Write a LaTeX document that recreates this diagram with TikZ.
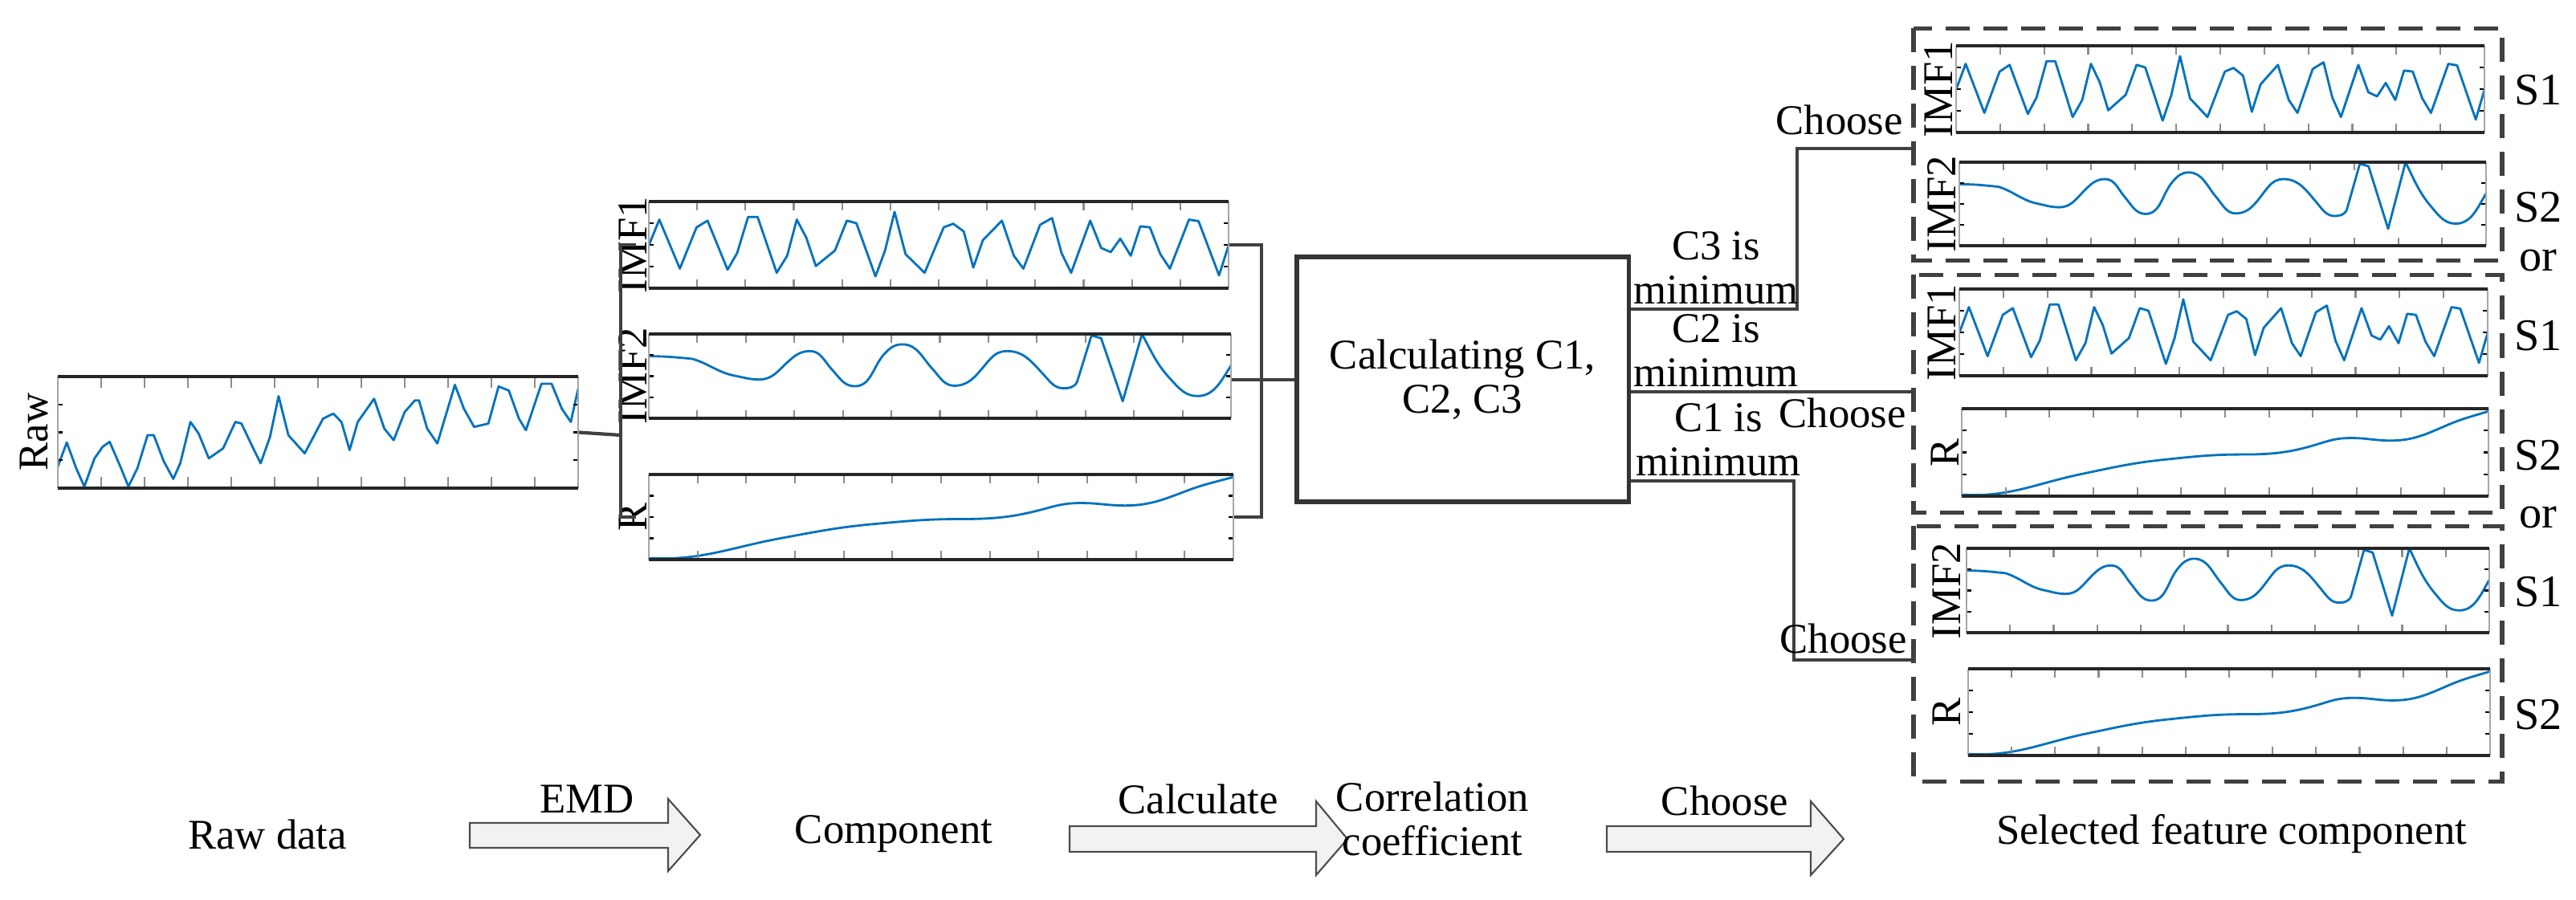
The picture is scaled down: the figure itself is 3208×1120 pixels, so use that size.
\documentclass[tikz,border=0pt]{standalone}
\usepackage{fontspec}
\setmainfont{Liberation Serif}
\setsansfont{Liberation Serif}
\begin{document}
\begin{tikzpicture}[x=0.01cm,y=-0.01cm,
  lbl/.style={font=\rmfamily\fontsize{15}{15.5}\selectfont, inner sep=1pt},
  conn/.style={draw=black!75, line width=1.2pt},
  dbox/.style={draw=black!75, line width=1.5pt, dash pattern=on 0.3cm off 0.17cm},
  wave/.style={draw={rgb,255:red,0;green,114;blue,189}, line width=0.8pt, line join=round},
  bigarr/.style={draw=black!70, fill=black!5, line width=0.6pt}]
\useasboundingbox (0,0) rectangle (3208,1120);
\def\rawd{(135,825)--(157,752)--(180,830)--(200,885)--(225,800)--(245,765)--(262,750)--(290,830)--(308,885)--(330,830)--(355,730)--(370,730)--(395,810)--(418,862)--(435,815)--(460,690)--(480,725)--(505,800)--(540,770)--(570,690)--(585,695)--(610,760)--(632,815)--(655,735)--(676,612)--(700,730)--(740,785)--(785,680)--(810,665)--(830,690)--(850,775)--(870,690)--(910,620)--(935,710)--(958,745)--(985,660)--(1010,625)--(1020,625)--(1040,710)--(1065,755)--(1108,578)--(1130,650)--(1155,705)--(1190,695)--(1215,583)--(1240,595)--(1265,680)--(1282,715)--(1320,575)--(1345,575)--(1370,650)--(1392,690)--(1410,590)}
\def\imfa{(140,175)--(162,125)--(205,220)--(240,140)--(263,127)--(305,222)--(325,190)--(348,120)--(368,120)--(408,228)--(430,195)--(450,125)--(470,160)--(490,215)--(530,185)--(555,127)--(575,132)--(615,235)--(635,185)--(655,110)--(678,192)--(718,228)--(758,140)--(778,133)--(800,148)--(820,218)--(840,165)--(880,127)--(905,195)--(925,220)--(960,135)--(985,122)--(1005,190)--(1025,228)--(1065,127)--(1088,180)--(1108,188)--(1128,162)--(1150,195)--(1170,138)--(1190,140)--(1212,192)--(1232,220)--(1272,125)--(1292,128)--(1335,233)--(1355,175)}
\def\imfb{(150,360) to[out=0,in=175] (240,365) to[out=-15,in=170] (330,398) to[out=-10,in=180] (380,405) to[out=0,in=220] (440,370) to[out=40,in=180] (485,350) to[out=0,in=135] (530,385) to[out=-45,in=180] (578,418) to[out=0,in=225] (640,355) to[out=45,in=180] (677,337) to[out=0,in=135] (740,385) to[out=-45,in=180] (785,417) to[out=0,in=225] (860,365) to[out=45,in=180] (895,350) to[out=0,in=135] (970,395) to[out=-45,in=180] (1012,422) to[out=0,in=240] (1040,410) -- (1070,320) -- (1090,325) -- (1135,447) -- (1175,317) to[out=-60,in=135] (1235,405) to[out=-45,in=180] (1290,437) to[out=0,in=235] (1360,378)}
\def\rd{(155,965) to[out=-3,in=190] (430,925) to[out=10,in=185] (620,897) to[out=5,in=180] (800,887) to[out=0,in=195] (980,865) to[out=15,in=180] (1050,855) to[out=0,in=180] (1140,860) to[out=0,in=200] (1270,830) to[out=20,in=195] (1365,803)}
\newcommand\pplot[9]{%
  \node[inner sep=0, minimum width={(#4-#2)*0.01cm}, minimum height={(#5-#3)*0.01cm}] (#1) at ({(#2+#4)/2},{(#3+#5)/2}) {};
  \begin{scope}
   \clip (#2,#3) rectangle (#4,#5);
   \begin{scope}[shift={({#2-#6/#8*(#4-#2)},{#3-#7/\HH*(#5-#3)})}, xscale={(#4-#2)/#8}, yscale={(#5-#3)/\HH}]
     \draw[wave] #9;
   \end{scope}
  \end{scope}
  \foreach \i in {1,...,11}{
    \draw[black!45, line width=0.6pt] ({#2+\i*(#4-#2)/12},#3) -- ++(0,{0.1*(#5-#3)});
    \draw[black!45, line width=0.6pt] ({#2+\i*(#4-#2)/12},#5) -- ++(0,{-0.1*(#5-#3)});}
  \foreach \j in {0.25,0.5,0.75}{
    \draw[black, line width=0.6pt] (#2,{#3+\j*(#5-#3)}) -- ++(6,0);
    \draw[black, line width=0.6pt] (#4,{#3+\j*(#5-#3)}) -- ++(-6,0);}
  \draw[black!35, line width=0.8pt] (#2,#3) -- (#2,#5) (#4,#3) -- (#4,#5);
  \draw[black!85, line width=1.4pt] (#2,#3) -- (#4,#3) (#2,#5) -- (#4,#5);
}
\newcommand\ylab[3]{\node[lbl, rotate=90] at (#1,#2) {#3};}
% raw
\def\HH{337}\pplot{raw}{72}{469}{720}{608}{135}{553}{1275}{\rawd}
\ylab{42}{538}{Raw}
% components
\def\HH{168}\pplot{ca}{808}{251}{1530}{359}{140}{90}{1215}{\imfa}
\def\HH{163}\pplot{cb}{808}{416}{1533}{521}{150}{317}{1210}{\imfb}
\def\HH{170}\pplot{cr}{808}{591}{1536}{697}{155}{798}{1210}{\rd}
\ylab{788}{305}{IMF1}\ylab{788}{468}{IMF2}\ylab{788}{644}{R}
% right side
\def\HH{168}\pplot{sa1}{2436}{57}{3094}{165}{140}{90}{1215}{\imfa}
\def\HH{163}\pplot{sb1}{2440}{202}{3096}{306}{150}{317}{1210}{\imfb}
\def\HH{168}\pplot{sa2}{2440}{360}{3098}{468}{140}{90}{1215}{\imfa}
\def\HH{170}\pplot{sr2}{2443}{509}{3099}{618}{155}{798}{1210}{\rd}
\def\HH{163}\pplot{sb3}{2449}{683}{3100}{788}{150}{317}{1210}{\imfb}
\def\HH{170}\pplot{sr3}{2451}{833}{3101}{941}{155}{798}{1210}{\rd}
\ylab{2414}{111}{IMF1}\ylab{2418}{254}{IMF2}\ylab{2418}{414}{IMF1}\ylab{2422}{564}{R}\ylab{2424}{736}{IMF2}\ylab{2424}{887}{R}
\node[draw=none, inner sep=0, minimum width=7.31cm, minimum height=2.88cm] (box1) at (2749.5,180) {};
\node[draw=none, inner sep=0, minimum width=7.31cm, minimum height=2.95cm] (box2) at (2749.5,490.5) {};
\node[draw=none, inner sep=0, minimum width=7.31cm, minimum height=3.17cm] (box3) at (2749.5,814.5) {};
\draw[dbox] (box1.north west) rectangle (box1.south east);
\draw[dbox] (box2.north west) rectangle (box2.south east);
\draw[dbox] (box3.north west) rectangle (box3.south east);
\foreach \t/\yy in {S1/112,S2/258,or/325,S1/418,S2/567,or/644,S1/737,S2/890}
  \node[lbl, font=\rmfamily\fontsize{16}{16}\selectfont] at (3161,\yy) {\t};
% calculating box
\node[draw=black!80, line width=1.5pt, minimum width=4.13cm, minimum height=3.05cm, lbl, align=center] (calc) at (1821.5,472.5) {Calculating C1,\\C2, C3};
% connectors left
\coordinate (brL) at (773,542);
\draw[conn] (raw.east) -- (brL);
\draw[conn] ([xshift=-0.15cm]ca.west) -| (brL) |- ([xshift=-0.15cm]cr.west);
\coordinate (brR) at (1571,473);
\draw[conn] (ca.east) -| (brR) |- (cr.east);
\draw[conn] (cb.east |- brR) -- (calc.west |- brR);
% outputs
\coordinate (k3) at (2238,185);
\coordinate (k1) at (2234,822);
\draw[conn] ([yshift=0.875cm]calc.east) -| (k3) -- (k3 -| box1.west);
\draw[conn] ([yshift=-0.155cm]calc.east) -- ([yshift=-0.155cm]calc.east -| box2.west);
\draw[conn] ([yshift=-1.265cm]calc.east) -| (k1) -- (k1 -| box3.west);
\node[lbl, align=center, anchor=south] at (2137,383) {C3 is\\minimum};
\node[lbl, align=center, anchor=south] at (2137,486) {C2 is\\minimum};
\node[lbl, align=center, anchor=south] at (2140,597) {C1 is\\minimum};
\node[lbl, anchor=south east] at (2374,172) {Choose};
\node[lbl, anchor=north east] at (2378,492) {Choose};
\node[lbl, anchor=south east] at (2379,818) {Choose};
% bottom process row
\draw[bigarr] (585,1025) -- (832,1025) -- (832,995) -- (872,1040) -- (832,1085) -- (832,1056) -- (585,1056) -- cycle;
\draw[bigarr] (1332,1029) -- (1639,1029) -- (1639,998) -- (1678,1045) -- (1639,1090) -- (1639,1061) -- (1332,1061) -- cycle;
\draw[bigarr] (2001,1029) -- (2255,1029) -- (2255,998) -- (2296,1045) -- (2255,1090) -- (2255,1061) -- (2001,1061) -- cycle;
\node[lbl] at (333,1039) {Raw data};
\node[lbl] at (731,995) {EMD};
\node[lbl] at (1113,1039) {Component};
\node[lbl] at (1492,995) {Calculate};
\node[lbl, align=center] at (1784,1020) {Correlation\\coefficient};
\node[lbl] at (2148,997) {Choose};
\node[lbl] at (2779,1039) {Selected feature component};
\end{tikzpicture}
\end{document}
